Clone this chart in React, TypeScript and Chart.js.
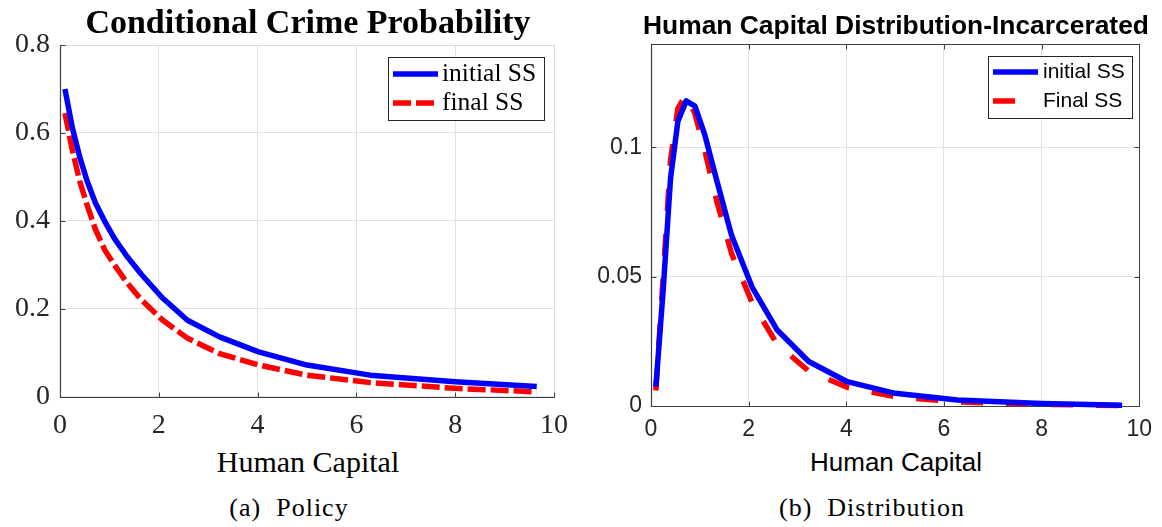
import React, { useEffect, useRef } from "react";
import { Chart, registerables } from "chart.js";

Chart.register(...registerables);

// ---------- data ----------
const humanCapital = [0.1, 0.25, 0.4, 0.55, 0.72, 0.9, 1.1, 1.35, 1.65, 2.07, 2.58, 3.23, 4.02, 5.0, 6.28, 8.0, 9.65];
const crimeInitialSS = [0.70, 0.612, 0.545, 0.49, 0.44, 0.40, 0.36, 0.32, 0.278, 0.225, 0.174, 0.136, 0.102, 0.072, 0.049, 0.034, 0.023];
const crimeFinalSS = [0.645, 0.56, 0.49, 0.435, 0.38, 0.335, 0.30, 0.26, 0.22, 0.175, 0.133, 0.098, 0.072, 0.049, 0.032, 0.019, 0.011];
const distInitialSS = [0.0075, 0.045, 0.088, 0.110, 0.118, 0.116, 0.105, 0.087, 0.066, 0.046, 0.0295, 0.0172, 0.0094, 0.0049, 0.0023, 0.001, 0.0003];
const distFinalSS = [0.006, 0.05, 0.095, 0.115, 0.1205, 0.113, 0.099, 0.079, 0.059, 0.040, 0.024, 0.0135, 0.0072, 0.0036, 0.0016, 0.0006, 0.0002];

const xTickValues = [0, 2, 4, 6, 8, 10];
const policyYTicks = [0, 0.2, 0.4, 0.6, 0.8];
const distYTicks = [0, 0.05, 0.1];

const policyLabels = ["initial SS", "final SS"];
const distLabels = ["initial SS", "Final SS"];

const policyTitle = "Conditional Crime Probability";
const distTitle = "Human Capital Distribution-Incarcerated";
const xAxisTitle = "Human Capital";
const policyCaption = "(a)\u00a0\u00a0Policy";
const distCaption = "(b)\u00a0\u00a0Distribution";

const SERIF = '"Liberation Serif", "Times New Roman", serif';
const SANS = '"Liberation Sans", Arial, Helvetica, sans-serif';

const toPoints = (xs: number[], ys: number[]) => xs.map((x, i) => ({ x, y: ys[i] }));

// ---------- plugins ----------
const framePlugin = {
  id: "frame",
  beforeDatasetsDraw(chart: any, _args: any, opts: any) {
    const { ctx, chartArea, scales } = chart;
    const L = Math.round(chartArea.left) + 0.5;
    const R = Math.round(chartArea.right) + 0.5;
    const T = Math.round(chartArea.top) + 0.5;
    const B = Math.round(chartArea.bottom) + 0.5;
    const line = (x1: number, y1: number, x2: number, y2: number, color: string, w: number) => {
      ctx.strokeStyle = color;
      ctx.lineWidth = w;
      ctx.beginPath();
      ctx.moveTo(x1, y1);
      ctx.lineTo(x2, y2);
      ctx.stroke();
    };
    ctx.save();
    ctx.lineCap = "square";
    line(L, T, R, T, opts.topColor, 1);
    line(R, T, R, B, opts.rightColor, 1);
    line(L, T, L, B, opts.axisColor, 1.2);
    line(L, B, R, B, opts.axisColor, 1.2);
    ctx.lineCap = "butt";
    const tl = opts.tickLength;
    for (const v of opts.xTicks) {
      const x = Math.round(scales.x.getPixelForValue(v)) + 0.5;
      line(x, B, x, B - tl, opts.axisColor, 1);
      if (opts.allSides) line(x, T, x, T + tl, opts.axisColor, 1);
    }
    for (const v of opts.yTicks) {
      const y = Math.round(scales.y.getPixelForValue(v)) + 0.5;
      line(L, y, L + tl, y, opts.axisColor, 1);
      if (opts.allSides) line(R, y, R - tl, y, opts.axisColor, 1);
    }
    ctx.restore();
  },
};

const boxLegendPlugin = {
  id: "boxLegend",
  afterDatasetsDraw(chart: any, _args: any, opts: any) {
    const { ctx } = chart;
    const b = opts.box;
    ctx.save();
    ctx.fillStyle = "#ffffff";
    ctx.fillRect(b.x, b.y, b.w, b.h);
    ctx.strokeStyle = "#262626";
    ctx.lineWidth = 1;
    ctx.strokeRect(Math.round(b.x) + 0.5, Math.round(b.y) + 0.5, b.w, b.h);
    chart.data.datasets.forEach((ds: any, i: number) => {
      const y = opts.rows[i];
      ctx.strokeStyle = ds.borderColor;
      ctx.lineWidth = opts.sampleWidth;
      ctx.lineCap = "butt";
      ctx.setLineDash(ds.borderDash || []);
      ctx.beginPath();
      ctx.moveTo(opts.sampleX0, y);
      ctx.lineTo(opts.sampleX1, y);
      ctx.stroke();
      ctx.setLineDash([]);
      ctx.fillStyle = "#000000";
      ctx.font = opts.font;
      ctx.textBaseline = "middle";
      ctx.textAlign = "left";
      ctx.fillText(ds.label, opts.textX, y + opts.textDy);
    });
    ctx.restore();
  },
};

// ---------- chart builder ----------
type Spec = {
  width: number;
  height: number;
  padTop: number;
  padRight: number;
  yWidth: number;
  xHeight: number;
  yMax: number;
  yTicks: number[];
  labels: string[];
  initial: number[];
  final: number[];
  dash: number[];
  lineWidth: number;
  tickFont: any;
  xPad: number;
  yPad: number;
  gridColor: string;
  frame: any;
  legend: any;
};

function makeConfig(s: Spec): any {
  return {
    type: "line",
    data: {
      datasets: [
        {
          label: s.labels[0],
          data: toPoints(humanCapital, s.initial),
          borderColor: "#0000ff",
          borderWidth: s.lineWidth,
          pointRadius: 0,
          fill: false,
          tension: 0,
          clip: false,
          borderJoinStyle: "round",
        },
        {
          label: s.labels[1],
          data: toPoints(humanCapital, s.final),
          borderColor: "#ff0000",
          borderWidth: s.lineWidth,
          borderDash: s.dash,
          borderCapStyle: "butt",
          pointRadius: 0,
          fill: false,
          tension: 0,
          clip: false,
        },
      ],
    },
    options: {
      animation: false,
      responsive: false,
      maintainAspectRatio: false,
      devicePixelRatio: 1,
      layout: { padding: { top: s.padTop, right: s.padRight, left: 0, bottom: 0 } },
      plugins: {
        legend: { display: false },
        title: { display: false },
        tooltip: { enabled: false },
        frame: s.frame,
        boxLegend: s.legend,
      },
      scales: {
        x: {
          type: "linear",
          min: 0,
          max: 10,
          afterBuildTicks: (sc: any) => {
            sc.ticks = xTickValues.map((v) => ({ value: v }));
          },
          afterFit: (sc: any) => {
            sc.height = s.xHeight;
          },
          grid: { color: s.gridColor, lineWidth: 1, drawTicks: false },
          border: { display: false },
          ticks: {
            color: "#262626",
            font: s.tickFont,
            padding: s.xPad,
            maxRotation: 0,
            autoSkip: false,
            callback: (v: any) => String(v),
          },
        },
        y: {
          type: "linear",
          min: 0,
          max: s.yMax,
          afterBuildTicks: (sc: any) => {
            sc.ticks = s.yTicks.map((v) => ({ value: v }));
          },
          afterFit: (sc: any) => {
            sc.width = s.yWidth;
          },
          grid: { color: s.gridColor, lineWidth: 1, drawTicks: false },
          border: { display: false },
          ticks: {
            color: "#262626",
            font: s.tickFont,
            padding: s.yPad,
            autoSkip: false,
            callback: (v: any) => String(v),
          },
        },
      },
    },
    plugins: [framePlugin, boxLegendPlugin],
  };
}

function ChartCanvas({ spec, left, top }: { spec: Spec; left: number; top: number }) {
  const ref = useRef<HTMLCanvasElement | null>(null);
  useEffect(() => {
    if (!ref.current) return;
    const chart = new Chart(ref.current, makeConfig(spec));
    return () => chart.destroy();
  }, []);
  return (
    <canvas
      ref={ref}
      width={spec.width}
      height={spec.height}
      style={{ position: "absolute", left, top, width: spec.width, height: spec.height }}
    />
  );
}

const policySpec: Spec = {
  width: 580,
  height: 440,
  padTop: 45,
  padRight: 23.5,
  yWidth: 60,
  xHeight: 43.3,
  yMax: 0.8,
  yTicks: policyYTicks,
  labels: policyLabels,
  initial: crimeInitialSS,
  final: crimeFinalSS,
  dash: [18, 5],
  lineWidth: 5.5,
  tickFont: { family: SERIF, size: 28 },
  xPad: 12,
  yPad: 10,
  gridColor: "#e3e3e3",
  frame: {
    axisColor: "#404040",
    topColor: "#dcdcdc",
    rightColor: "#dcdcdc",
    tickLength: 5,
    allSides: false,
    xTicks: xTickValues,
    yTicks: policyYTicks,
  },
  legend: {
    box: { x: 388, y: 57, w: 156, h: 63 },
    rows: [74, 103],
    sampleX0: 393,
    sampleX1: 438,
    sampleWidth: 5.5,
    textX: 442,
    textDy: 0,
    font: `25.5px ${SERIF}`,
  },
};

const distSpec: Spec = {
  width: 582,
  height: 440,
  padTop: 44,
  padRight: 19,
  yWidth: 71,
  xHeight: 34,
  yMax: 0.14,
  yTicks: distYTicks,
  labels: distLabels,
  initial: distInitialSS,
  final: distFinalSS,
  dash: [22, 23],
  lineWidth: 5.5,
  tickFont: { family: SANS, size: 23 },
  xPad: 10,
  yPad: 9,
  gridColor: "#e3e3e3",
  frame: {
    axisColor: "#404040",
    topColor: "#404040",
    rightColor: "#404040",
    tickLength: 5,
    allSides: true,
    xTicks: xTickValues,
    yTicks: distYTicks,
  },
  legend: {
    box: { x: 408, y: 56, w: 144, h: 62 },
    rows: [72, 101],
    sampleX0: 413,
    sampleX1: 458,
    sampleWidth: 5.5,
    textX: 463,
    textDy: 0,
    font: `21px ${SANS}`,
  },
};

function Label({ text, cx, top, font, size, weight, spacing }: any) {
  return (
    <div
      style={{
        position: "absolute",
        left: cx - 400,
        width: 800,
        top,
        textAlign: "center",
        fontFamily: font,
        fontSize: size,
        fontWeight: weight || "normal",
        letterSpacing: spacing || 0,
        lineHeight: 1,
        whiteSpace: "nowrap",
        color: "#000",
      }}
    >
      {text}
    </div>
  );
}

export default function App() {
  return (
    <div
      style={{
        position: "absolute",
        left: 0,
        top: 0,
        width: 1162,
        height: 527,
        background: "#ffffff",
        overflow: "hidden",
      }}
    >
      <ChartCanvas spec={policySpec} left={0} top={0} />
      <ChartCanvas spec={distSpec} left={580} top={0} />
      <Label text={policyTitle} cx={308} top={4.5} font={SERIF} size={34} weight="bold" />
      <Label text={distTitle} cx={896} top={12} font={SANS} size={26.4} weight="bold" />
      <Label text={xAxisTitle} cx={308} top={447} font={SERIF} size={30} />
      <Label text={xAxisTitle} cx={896} top={449} font={SANS} size={26} />
      <Label text={policyCaption} cx={289} top={495} font={SERIF} size={26} spacing={1} />
      <Label text={distCaption} cx={872} top={495} font={SERIF} size={26} spacing={1} />
    </div>
  );
}
